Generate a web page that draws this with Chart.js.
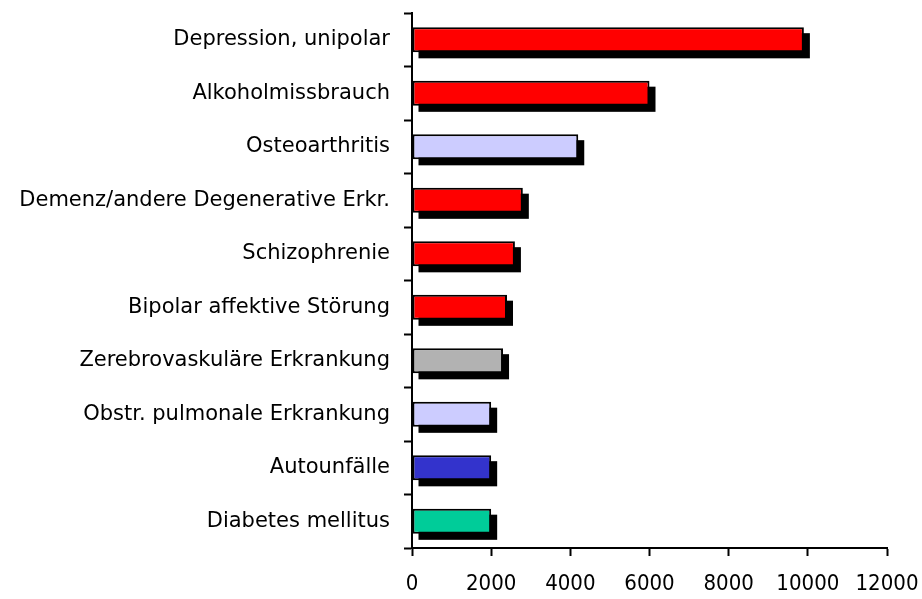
<!DOCTYPE html>
<html>
<head>
<meta charset="utf-8">
<script src="https://cdn.jsdelivr.net/npm/chart.js@4/dist/chart.umd.min.js"></script>
<style>
html,body{margin:0;padding:0;background:#fff;}
#wrap{width:922px;height:599px;position:relative;}
</style>
</head>
<body>
<div id="wrap"><canvas id="c"></canvas></div>
<script>
const categories = [
  "Depression, unipolar",
  "Alkoholmissbrauch",
  "Osteoarthritis",
  "Demenz/andere Degenerative Erkr.",
  "Schizophrenie",
  "Bipolar affektive Störung",
  "Zerebrovaskuläre Erkrankung",
  "Obstr. pulmonale Erkrankung",
  "Autounfälle",
  "Diabetes mellitus"
];
const values = [9900, 6000, 4200, 2800, 2600, 2400, 2300, 2000, 2000, 2000];
const barColors = ["#FF0000","#FF0000","#CCCCFF","#FF0000","#FF0000","#FF0000","#B2B2B2","#CCCCFF","#3333CC","#00CC99"];
const xTicks = [0, 2000, 4000, 6000, 8000, 10000, 12000];

const XFONT = "'DejaVu Sans Condensed', 'DejaVu Sans', sans-serif";
const YFONT = "'DejaVu Sans', sans-serif";

const shadowPlugin = {
  id: 'barShadow',
  beforeDatasetsDraw(chart) {
    const ctx = chart.ctx;
    const meta = chart.getDatasetMeta(0);
    ctx.save();
    ctx.fillStyle = '#000';
    meta.data.forEach(el => {
      const p = el.getProps(['x','y','base','height'], true);
      const left = Math.min(p.x, p.base), w = Math.abs(p.x - p.base);
      ctx.fillRect(left + 6, p.y - p.height / 2 + 6, w, p.height);
    });
    ctx.restore();
  }
};

new Chart(document.getElementById('c'), {
  type: 'bar',
  data: {
    labels: categories,
    datasets: [{
      data: values,
      backgroundColor: barColors,
      borderColor: '#000',
      borderWidth: 2,
      borderSkipped: false,
      barPercentage: 0.47,
      categoryPercentage: 1.0
    }]
  },
  options: {
    indexAxis: 'y',
    responsive: true,
    maintainAspectRatio: false,
    animation: false,
    layout: { padding: { top: 13, right: 35, left: 0, bottom: 0 } },
    plugins: { legend: { display: false }, tooltip: { enabled: false } },
    scales: {
      x: {
        min: 0, max: 12000,
        afterBuildTicks(scale) { scale.ticks = xTicks.map(v => ({ value: v })); },
        afterFit(scale) { scale.height = 51; scale.paddingLeft = 0; scale.paddingRight = 0; },
        grid: { display: true, drawOnChartArea: false, drawTicks: true, tickLength: 8, tickColor: '#000', tickWidth: 2 },
        border: { display: true, color: '#000', width: 2 },
        ticks: { color: '#000', font: { family: XFONT, size: 22 }, padding: 15, maxRotation: 0, autoSkip: false,
                 callback: v => String(v) }
      },
      y: {
        afterFit(scale) { scale.width = 412; scale.paddingTop = 0; scale.paddingBottom = 0; },
        grid: { display: true, drawOnChartArea: false, drawTicks: true, tickLength: 8, tickColor: '#000', tickWidth: 2, offset: true },
        border: { display: true, color: '#000', width: 2 },
        ticks: { color: '#000', font: { family: YFONT, size: 21 }, padding: 14, autoSkip: false }
      }
    }
  },
  plugins: [shadowPlugin]
});
</script>
</body>
</html>
